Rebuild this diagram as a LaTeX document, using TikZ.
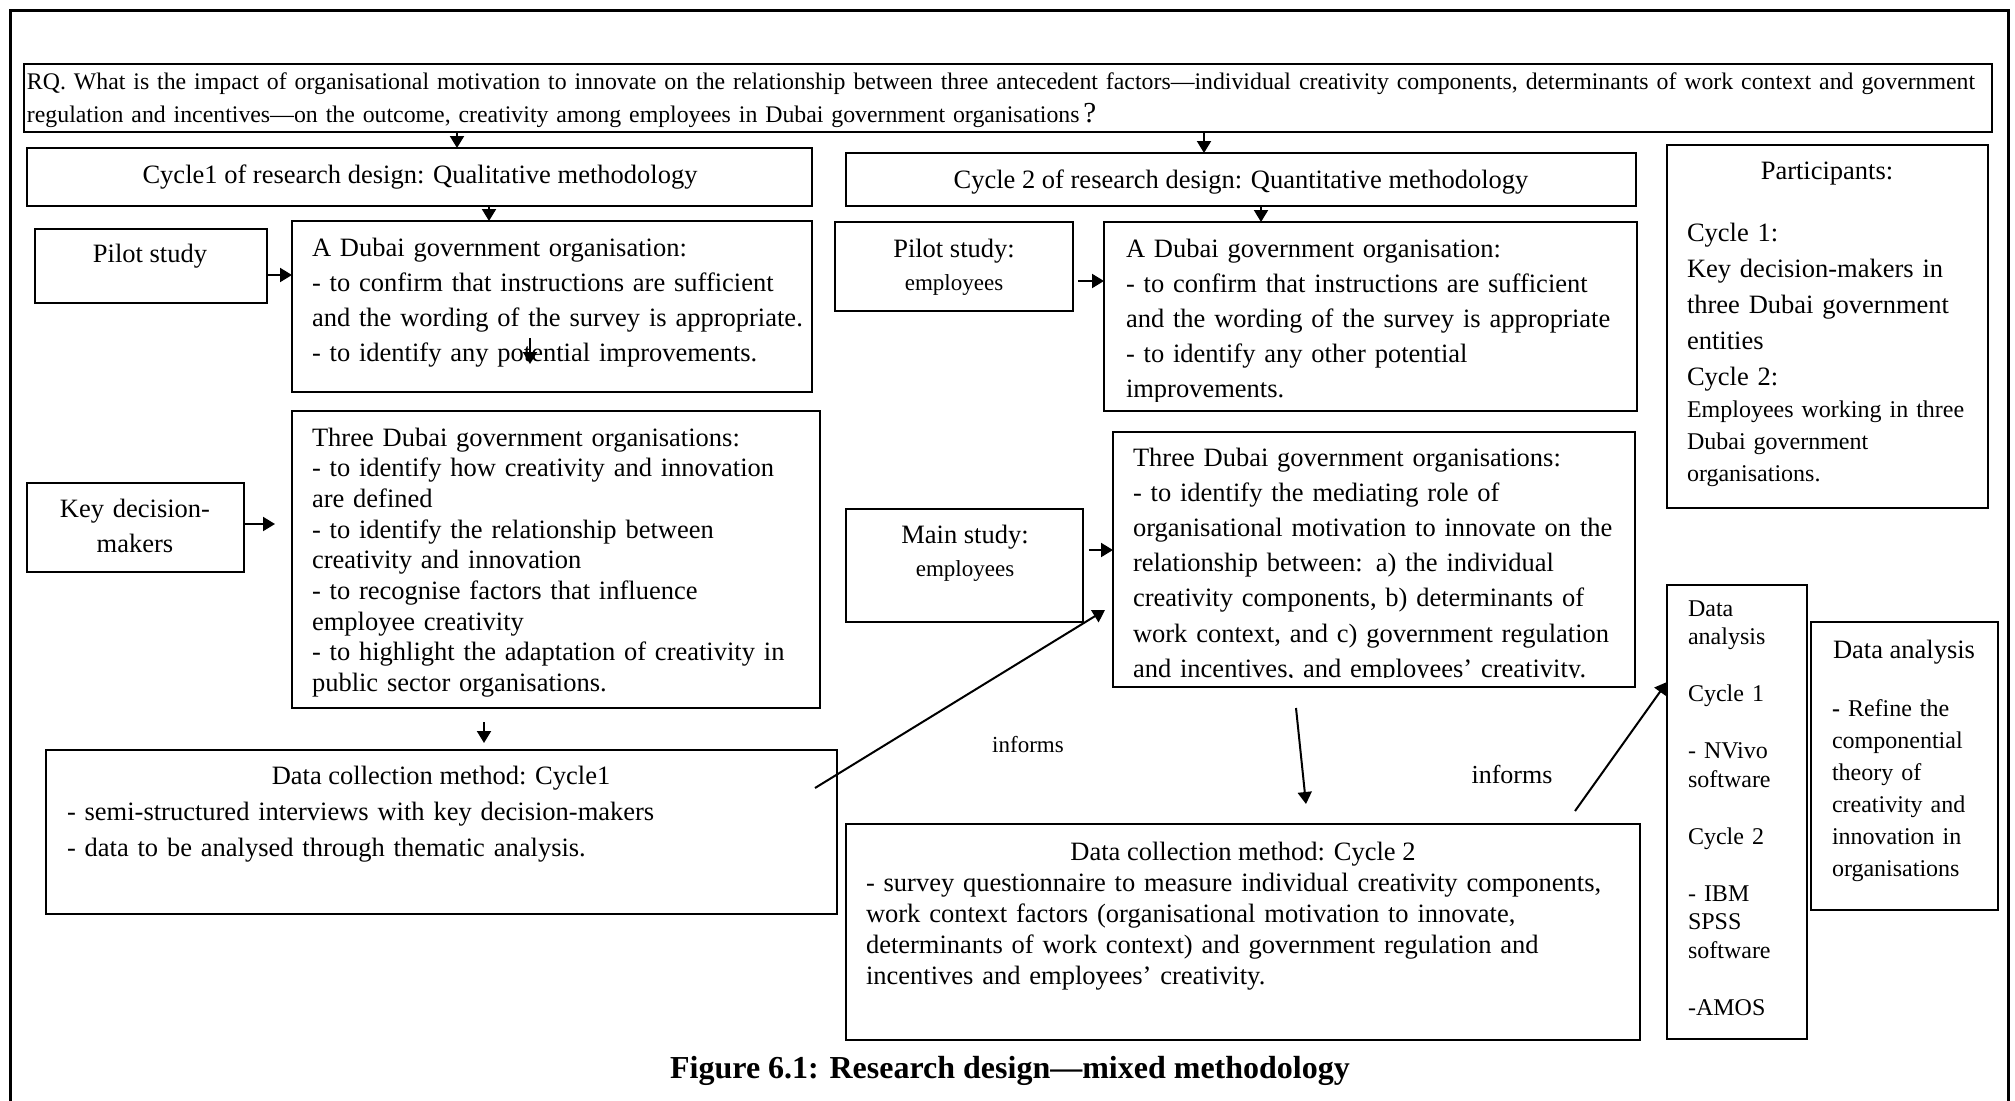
\documentclass[tikz,border=0pt]{standalone}
\usepackage{fontspec}
\setmainfont{Liberation Serif}
\usetikzlibrary{arrows.meta}

% box from its top-left corner (x1,y1) to its bottom-right corner (x2,y2)
\newcommand\mkbox[5]{\node[box,minimum width={#4pt-#2pt},minimum height={#5pt-#3pt}] (#1) at (#2,#3) {};}

\begin{document}
\begin{tikzpicture}[x=1pt,y=-1pt,
  box/.style={draw,line width=2pt,anchor=north west,inner sep=0pt,outer sep=0pt},
  arr/.style={line width=2pt,-{Triangle[length=12pt,width=14pt]}},
  txt/.style={inner sep=0pt,outer sep=0pt,anchor=base west,align=left,text width=#1},
  txt/.default=800pt,
  ctr/.style={inner sep=0pt,outer sep=0pt,anchor=base,align=center},
  big/.style={font=\fontsize{26.5}{35}\selectfont},
  small/.style={font=\fontsize{24}{32}\selectfont},
]
\useasboundingbox (0,0) rectangle (2015,1100);
\fill[white] (0,0) rectangle (2015,1100);

% outer frame (open at the bottom)
\draw[line width=3pt] (10,1120) -- (10,10) -- (2008,10) -- (2008,1120);

% boxes
\mkbox{rq}{24}{64}{1992}{132}
\mkbox{cyc1}{27}{148}{812}{206}
\mkbox{cyc2}{846}{153}{1636}{206}
\mkbox{part}{1667}{145}{1988}{508}
\mkbox{pil1}{35}{229}{267}{303}
\mkbox{ad1}{292}{221}{812}{392}
\mkbox{kdm}{27}{483}{244}{572}
\mkbox{td1}{292}{411}{820}{708}
\mkbox{dc1}{46}{750}{837}{914}
\mkbox{pil2}{835}{222}{1073}{311}
\mkbox{ad2}{1104}{222}{1637}{411}
\mkbox{mainst}{846}{509}{1083}{622}
\mkbox{td2}{1113}{432}{1635}{687}
\mkbox{dc2}{846}{824}{1640}{1040}
\mkbox{da1}{1667}{585}{1807}{1039}
\mkbox{da2}{1811}{622}{1998}{910}

% research question
\node[txt=1970pt,font=\fontsize{23.8}{33}\selectfont] (rqt) at (27,89)
  {\makebox[1949pt][s]{RQ. What is the impact of organisational motivation to innovate on the relationship between three antecedent factors—individual creativity components, determinants of work context and government}\\
   regulation and incentives—on the outcome, creativity among employees in Dubai government organisations\,{\fontsize{29}{33}\selectfont ?}};

% cycle headers
\node[ctr,big] (cyc1t) at (420,183) {Cycle1 of research design: Qualitative methodology};
\node[ctr,big] (cyc2t) at (1241,188) {Cycle 2 of research design: Quantitative methodology};

% participants
\node[ctr,big] (partt) at (1827,179) {Participants:};
\node[txt,font=\fontsize{26.5}{36}\selectfont] (partb) at (1687,241)
  {Cycle 1:\\Key decision-makers in\\three Dubai government\\entities\\Cycle 2:};
\node[txt,small] (partc) at (1687,417)
  {Employees working in three\\Dubai government\\organisations.};

% cycle 1 column
\node[ctr,big] (pil1t) at (150,262) {Pilot study};
\node[txt,big] (ad1t) at (312,256)
  {A Dubai government organisation:\\
   - to confirm that instructions are sufficient\\
   and the wording of the survey is appropriate.\\
   - to identify any potential improvements.};
\node[ctr,big,text width=210pt] (kdmt) at (135,517) {Key decision-\\makers};
\node[txt,font=\fontsize{26.5}{30.7}\selectfont] (td1t) at (312,446)
  {Three Dubai government organisations:\\
   - to identify how creativity and innovation\\
   are defined\\
   - to identify the relationship between\\
   creativity and innovation\\
   - to recognise factors that influence\\
   employee creativity\\
   - to highlight the adaptation of creativity in\\
   public sector organisations.};
\node[ctr,big] (dc1t) at (441,784) {Data collection method: Cycle1};
\node[txt,font=\fontsize{26.5}{36}\selectfont] (dc1b) at (67,820)
  {- semi-structured interviews with key decision-makers\\
   - data to be analysed through thematic analysis.};

% cycle 2 column
\node[ctr,big] (pil2t) at (954,257) {Pilot study:};
\node[ctr,font=\fontsize{23}{30}\selectfont] (pil2s) at (954,290) {employees};
\begin{scope}
  \clip (ad2.north west) rectangle ([yshift=10pt]ad2.south east);
  \node[txt,big] (ad2t) at (1126,257)
    {A Dubai government organisation:\\
     - to confirm that instructions are sufficient\\
     and the wording of the survey is appropriate\\
     - to identify any other potential\\
     improvements.};
\end{scope}
\node[ctr,big] (maint) at (965,543) {Main study:};
\node[ctr,font=\fontsize{23}{30}\selectfont] (mains) at (965,576) {employees};
\begin{scope}
  \clip (td2.north west) rectangle ([yshift=10pt]td2.south east);
  \node[txt,font=\fontsize{26.5}{35.2}\selectfont] (td2t) at (1133,466)
    {Three Dubai government organisations:\\
     - to identify the mediating role of\\
     organisational motivation to innovate on the\\
     relationship between: a) the individual\\
     creativity components, b) determinants of\\
     work context, and c) government regulation\\
     and incentives, and employees’ creativity.};
\end{scope}
\node[ctr,big] (dc2t) at (1243,860) {Data collection method: Cycle 2};
\node[txt,font=\fontsize{26.5}{31.3}\selectfont] (dc2b) at (866,891)
  {- survey questionnaire to measure individual creativity components,\\
   work context factors (organisational motivation to innovate,\\
   determinants of work context) and government regulation and\\
   incentives and employees’ creativity.};

% data analysis
\node[txt,font=\fontsize{24}{28.5}\selectfont] (da1t) at (1688,616)
  {Data\\analysis\\[28.5pt]Cycle 1\\[28.5pt]- NVivo\\software\\[28.5pt]Cycle 2\\[28.5pt]- IBM\\SPSS\\software\\[28.5pt]-AMOS};
\node[ctr,big] (da2t) at (1904,658) {Data analysis};
\node[txt,font=\fontsize{24}{32}\selectfont] (da2b) at (1832,716)
  {{\bfseries -} Refine the\\componential\\theory of\\creativity and\\innovation in\\organisations};

% connector labels and caption
\node[ctr,font=\fontsize{23}{28}\selectfont] (inf1) at (1028,752) {informs};
\node[ctr,font=\fontsize{26}{30}\selectfont] (inf2) at (1512,783) {informs};
\node[ctr,font=\fontsize{32}{36}\selectfont\bfseries] (cap) at (1010,1078)
  {Figure 6.1: Research design—mixed methodology};

% connectors
\coordinate (xa) at (457,0);
\coordinate (xb) at (1204,0);
\coordinate (xc) at (489,0);
\coordinate (xd) at (1261,0);
\coordinate (xe) at (484,0);
\coordinate (ya) at (0,275);
\coordinate (yb) at (0,281);
\coordinate (yc) at (0,524);
\coordinate (yd) at (0,550);
\draw[arr] (rq.south -| xa) -- (cyc1.north -| xa);
\draw[arr] (rq.south -| xb) -- (cyc2.north -| xb);
\draw[arr] (cyc1.south -| xc) -- (ad1.north -| xc);
\draw[arr] (cyc2.south -| xd) -- (ad2.north -| xd);
\draw[arr] (pil1.east |- ya) -- (ad1.west |- ya);
\draw[arr,shorten <=5pt] (pil2.east |- yb) -- (ad2.west |- yb);
\draw[arr,shorten >=17pt] (kdm.east |- yc) -- (td1.west |- yc);
\draw[arr,shorten <=14pt,shorten >=7pt] (td1.south -| xe) -- (dc1.north -| xe);
\draw[arr,shorten <=6pt] (mainst.east |- yd) -- (td2.west |- yd);

\coordinate (ia1) at (530,338);
\coordinate (ia2) at (530,364);
\draw[arr] (ia1) -- (ia2);

\coordinate (inf1s) at (815,788);
\coordinate (inf1e) at (1105,610);
\draw[arr] (inf1s) -- (inf1e);

\coordinate (q1) at (1296,708);
\coordinate (q2) at (1306,804);
\draw[arr] (q1) -- (q2);

\coordinate (inf2s) at (1575,811);
\coordinate (inf2e) at (1667,682);
\draw[arr] (inf2s) -- (inf2e);
\end{tikzpicture}
\end{document}
